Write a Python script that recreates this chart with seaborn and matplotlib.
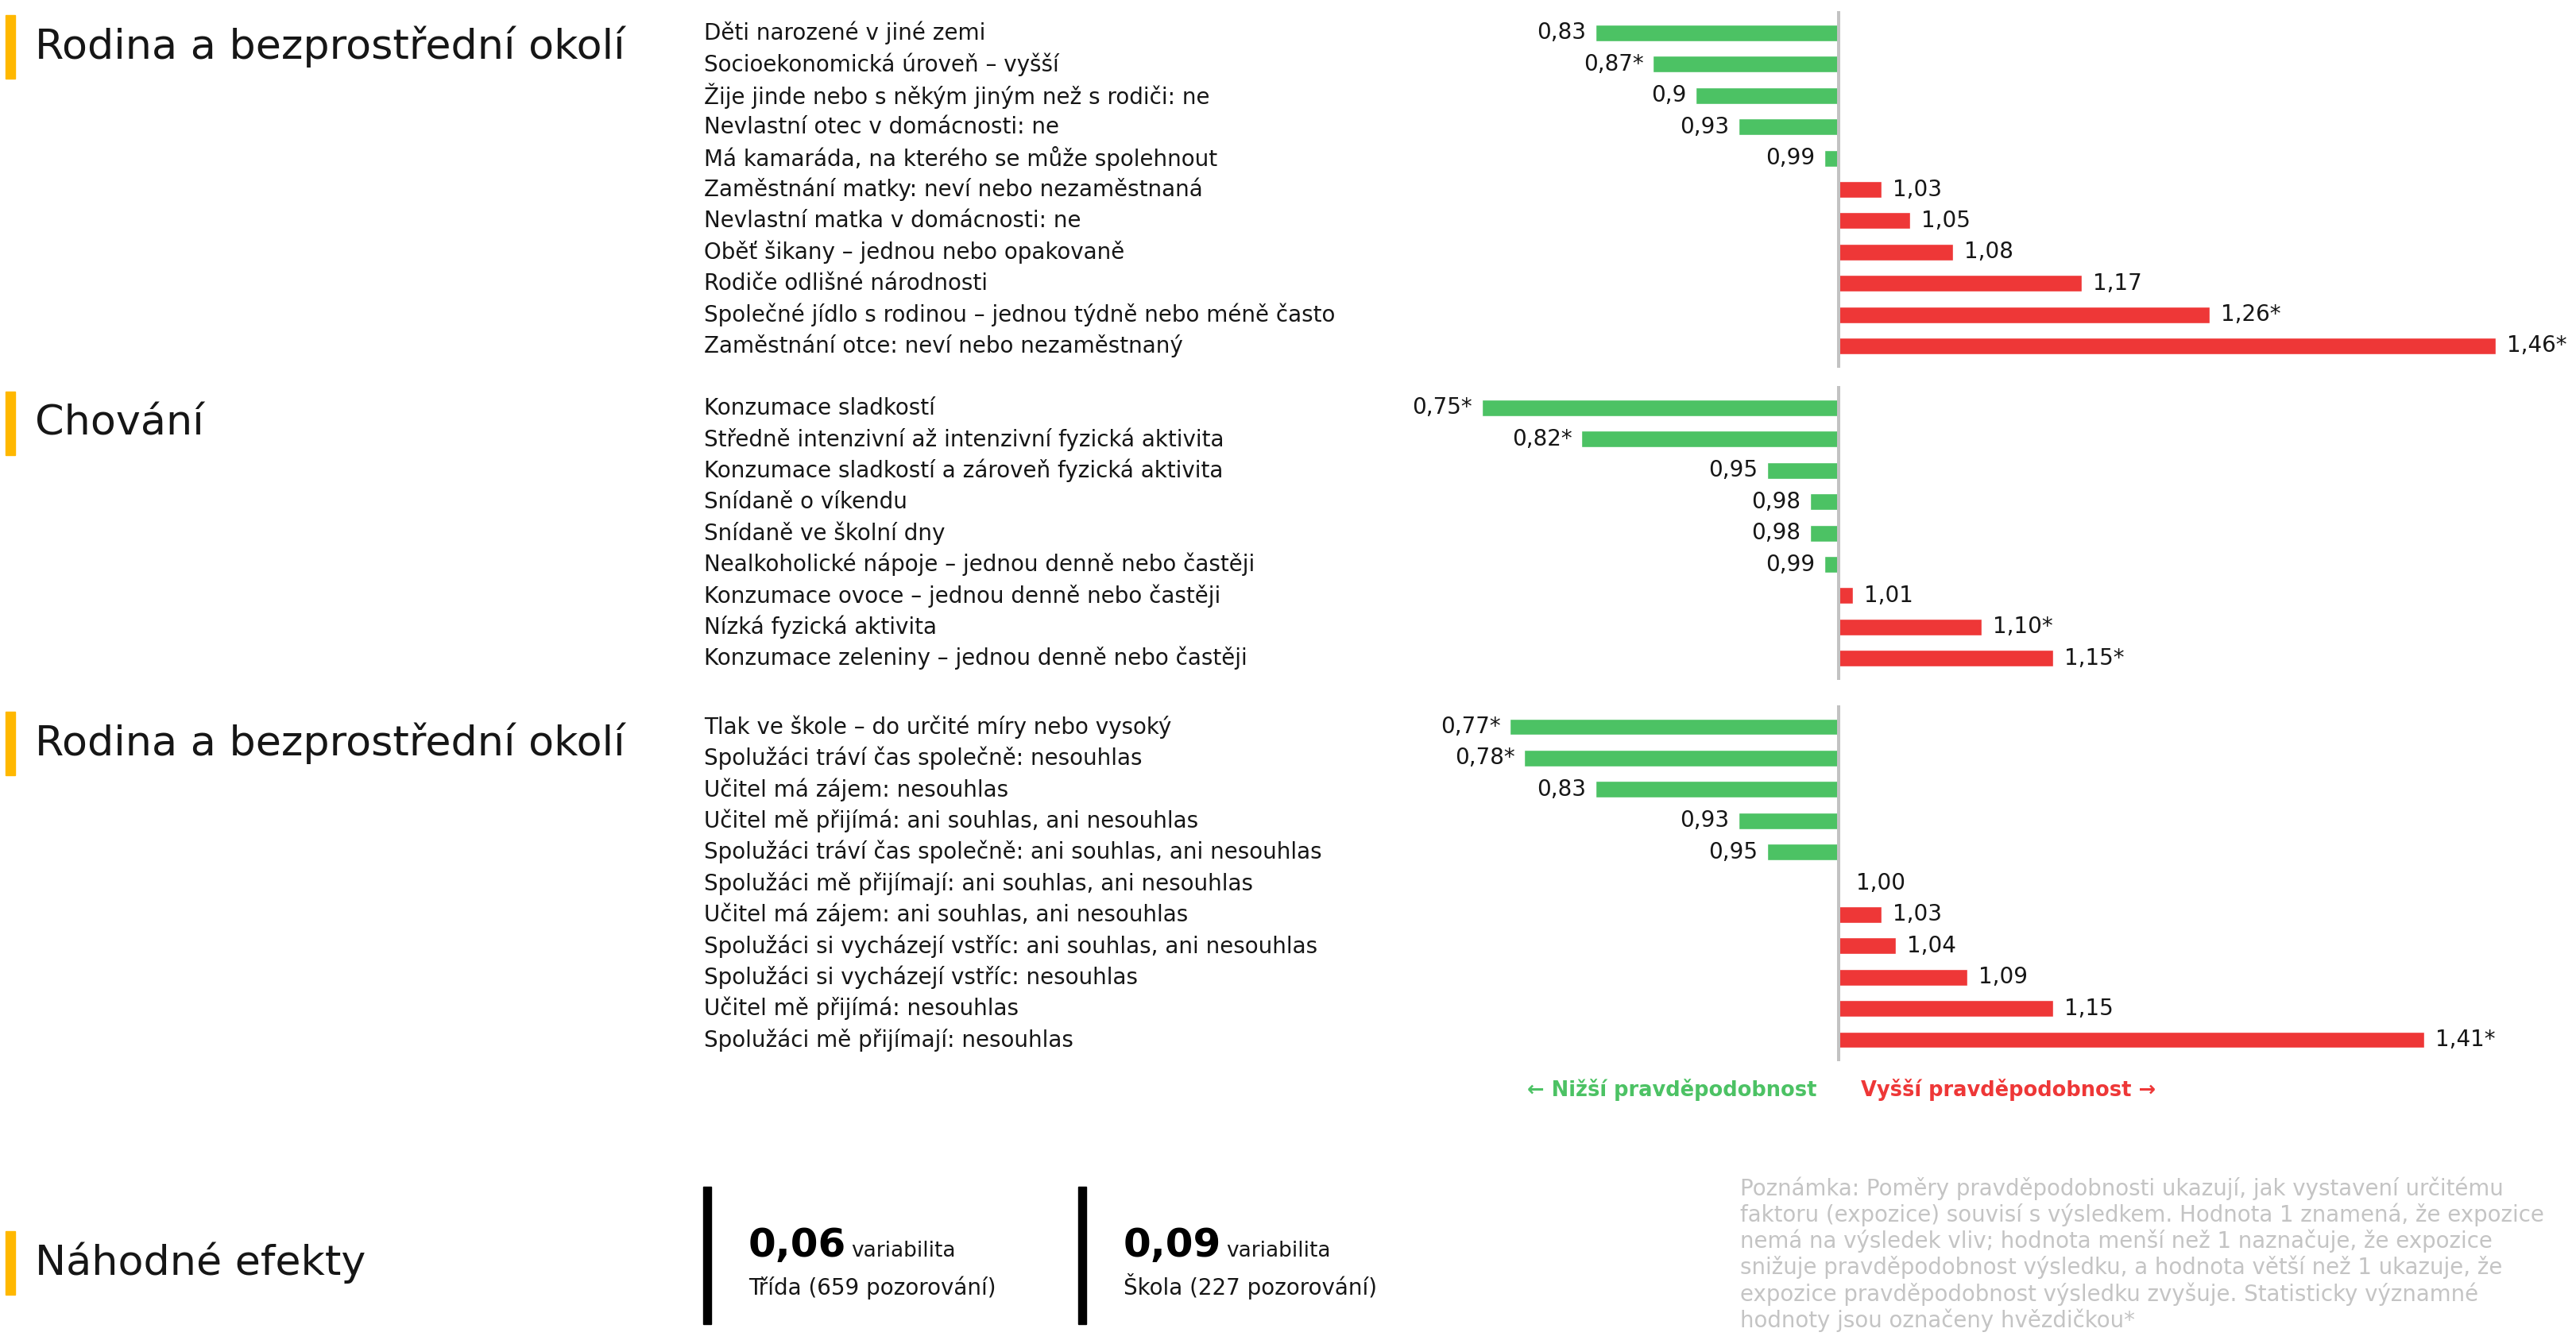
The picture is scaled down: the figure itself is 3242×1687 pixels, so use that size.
import numpy as np
import pandas as pd
import matplotlib
matplotlib.use("Agg")
import matplotlib.pyplot as plt
import matplotlib.transforms as mtransforms
import seaborn as sns

# ---- data ----
section_titles = ["Rodina a bezprostřední okolí", "Chování", "Rodina a bezprostřední okolí"]

family_labels = [
    "Děti narozené v jiné zemi",
    "Socioekonomická úroveň – vyšší",
    "Žije jinde nebo s někým jiným než s rodiči: ne",
    "Nevlastní otec v domácnosti: ne",
    "Má kamaráda, na kterého se může spolehnout",
    "Zaměstnání matky: neví nebo nezaměstnaná",
    "Nevlastní matka v domácnosti: ne",
    "Oběť šikany – jednou nebo opakovaně",
    "Rodiče odlišné národnosti",
    "Společné jídlo s rodinou – jednou týdně nebo méně často",
    "Zaměstnání otce: neví nebo nezaměstnaný",
]
family_values = [0.83, 0.87, 0.90, 0.93, 0.99, 1.03, 1.05, 1.08, 1.17, 1.26, 1.46]
family_texts = ["0,83", "0,87*", "0,9", "0,93", "0,99", "1,03", "1,05", "1,08", "1,17", "1,26*", "1,46*"]

behaviour_labels = [
    "Konzumace sladkostí",
    "Středně intenzivní až intenzivní fyzická aktivita",
    "Konzumace sladkostí a zároveň fyzická aktivita",
    "Snídaně o víkendu",
    "Snídaně ve školní dny",
    "Nealkoholické nápoje – jednou denně nebo častěji",
    "Konzumace ovoce – jednou denně nebo častěji",
    "Nízká fyzická aktivita",
    "Konzumace zeleniny – jednou denně nebo častěji",
]
behaviour_values = [0.75, 0.82, 0.95, 0.98, 0.98, 0.99, 1.01, 1.10, 1.15]
behaviour_texts = ["0,75*", "0,82*", "0,95", "0,98", "0,98", "0,99", "1,01", "1,10*", "1,15*"]

school_labels = [
    "Tlak ve škole – do určité míry nebo vysoký",
    "Spolužáci tráví čas společně: nesouhlas",
    "Učitel má zájem: nesouhlas",
    "Učitel mě přijímá: ani souhlas, ani nesouhlas",
    "Spolužáci tráví čas společně: ani souhlas, ani nesouhlas",
    "Spolužáci mě přijímají: ani souhlas, ani nesouhlas",
    "Učitel má zájem: ani souhlas, ani nesouhlas",
    "Spolužáci si vycházejí vstříc: ani souhlas, ani nesouhlas",
    "Spolužáci si vycházejí vstříc: nesouhlas",
    "Učitel mě přijímá: nesouhlas",
    "Spolužáci mě přijímají: nesouhlas",
]
school_values = [0.77, 0.78, 0.83, 0.93, 0.95, 1.00, 1.03, 1.04, 1.09, 1.15, 1.41]
school_texts = ["0,77*", "0,78*", "0,83", "0,93", "0,95", "1,00", "1,03", "1,04", "1,09", "1,15", "1,41*"]

random_title = "Náhodné efekty"
random_values = ["0,06", "0,09"]
random_units = ["Třída (659 pozorování)", "Škola (227 pozorování)"]

note_lines = [
    "Poznámka: Poměry pravděpodobnosti ukazují, jak vystavení určitému",
    "faktoru (expozice) souvisí s výsledkem. Hodnota 1 znamená, že expozice",
    "nemá na výsledek vliv; hodnota menší než 1 naznačuje, že expozice",
    "snižuje pravděpodobnost výsledku, a hodnota větší než 1 ukazuje, že",
    "expozice pravděpodobnost výsledku zvyšuje. Statisticky významné",
    "hodnoty jsou označeny hvězdičkou*",
]

# ---- style ----
W, H = 3242, 1687
GREEN = "#4cc264"
RED = "#ee3737"
YELLOW = "#ffb800"
TXT = "#161616"
FS = 20

sns.set_theme(style="white")
plt.rcParams["font.family"] = ["DejaVu Sans"]

fig = plt.figure(figsize=(W / 100, H / 100), dpi=100)
fig.patch.set_facecolor("white")


def fx(px):
    return px / W


def fy(py):
    return 1 - py / H


ROW = 39.4
AX_L = 886
ZERO = 2314
UNIT = 1798
X_MIN = -(ZERO - AX_L) / UNIT
X_MAX = (W - ZERO) / UNIT
PAD = 0.69


def section_title(text, y_center):
    fig.patches.append(plt.Rectangle((fx(7), fy(y_center + 40)), fx(12), 80 / H,
                                     transform=fig.transFigure, color=YELLOW, zorder=2))
    fig.text(fx(44), fy(y_center), text, fontsize=37.7, color=TXT, va="center", ha="left")


def draw_section(first_row, labels, values, texts):
    n = len(labels)
    top = first_row - ROW * PAD
    bot = first_row + (n - 1) * ROW + ROW * PAD
    ax = fig.add_axes([fx(AX_L), fy(bot), 1 - fx(AX_L), (bot - top) / H])
    vals = np.array(values)
    df = pd.DataFrame({
        "label": labels,
        "dev": vals - 1,
        "side": np.where(vals < 1, "low", "high"),
    })
    sns.barplot(data=df, x="dev", y="label", hue="side", orient="h",
                palette={"low": GREEN, "high": RED}, saturation=1,
                width=0.53, dodge=False, legend=False, ax=ax)
    ax.set_xlim(X_MIN, X_MAX)
    ax.set_ylim(n - 1 + PAD, -PAD)
    ax.axvline(0, color="#c2c2c2", lw=2.9, zorder=5)
    ax.axis("off")
    trans = mtransforms.blended_transform_factory(ax.transAxes, ax.transData)
    for i, (lab, d, t) in enumerate(zip(labels, df["dev"], texts)):
        ax.text(0, i, lab, transform=trans, ha="left", va="center",
                fontsize=FS, color=TXT)
        if d < 0:
            ax.annotate(t, (d, i), xytext=(-12, 0), textcoords="offset pixels",
                        ha="right", va="center", fontsize=FS, color=TXT)
        else:
            off = 22 if d == 0 else 14
            ax.annotate(t, (d, i), xytext=(off, 0), textcoords="offset pixels",
                        ha="left", va="center", fontsize=FS, color=TXT)
    return ax


section_title(section_titles[0], 59)
draw_section(41.5, family_labels, family_values, family_texts)

section_title(section_titles[1], 533)
draw_section(513.5, behaviour_labels, behaviour_values, behaviour_texts)

section_title(section_titles[2], 936)
draw_section(915, school_labels, school_values, school_texts)

# direction legend
fig.text(fx(2286), fy(1372), "← Nižší pravděpodobnost", color=GREEN, fontsize=18.5,
         fontweight="semibold", ha="right", va="center")
fig.text(fx(2342), fy(1372), "Vyšší pravděpodobnost →", color=RED, fontsize=18.5,
         fontweight="semibold", ha="left", va="center")

# random effects block
section_title(random_title, 1590)
for x0, val, unit in zip([890, 1362], random_values, random_units):
    fig.patches.append(plt.Rectangle((fx(x0 - 5), fy(1667)), fx(10), (1667 - 1494) / H,
                                     transform=fig.transFigure, color="black"))
    t = fig.text(fx(x0 + 52), fy(1582), val, fontsize=36, fontweight="bold",
                 color="black", ha="left", va="baseline")
    fig.canvas.draw()
    bb = t.get_window_extent()
    fig.text(fx(bb.x1 + 6), fy(1582), "variabilita", fontsize=19, color=TXT,
             ha="left", va="baseline")
    fig.text(fx(x0 + 52), fy(1630), unit, fontsize=FS, color=TXT,
             ha="left", va="baseline")

# note
for k, line in enumerate(note_lines):
    fig.text(fx(2190), fy(1496 + k * 33.2), line, fontsize=19.9, color="#c4c4c4",
             ha="left", va="center")

fig.savefig("out.png", dpi=100, facecolor="white")
